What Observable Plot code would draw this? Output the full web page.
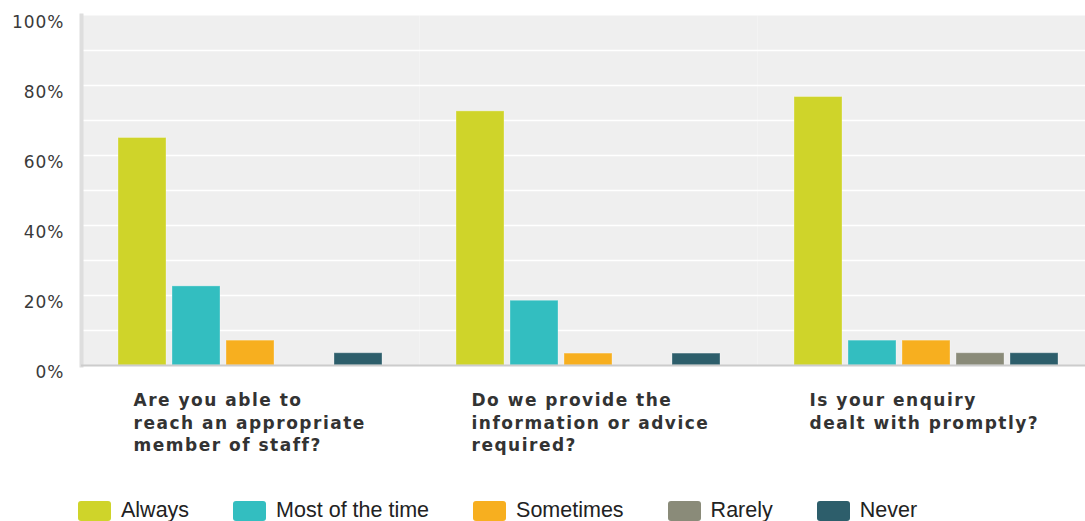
<!DOCTYPE html>
<html><head><meta charset="utf-8">
<script src="https://cdn.jsdelivr.net/npm/d3@7"></script>
<script src="https://cdn.jsdelivr.net/npm/@observablehq/plot@0.6"></script>
<style>
html,body{margin:0;padding:0;overflow:hidden;background:#fff;}
#chart svg{max-width:none !important;display:block}
#chart svg g[aria-label="y-axis tick label"] text{letter-spacing:1px}
#chart svg g[aria-label="text"] text{letter-spacing:1.5px}
.legend{display:flex;align-items:flex-start;margin-left:78px;margin-top:1px;font-family:"Liberation Sans",Arial,sans-serif;font-size:21.5px;line-height:18px;color:#222;height:20px}
.legend .item{display:flex;align-items:flex-start;margin-right:44px}
.legend .sw{width:33px;height:20px;border-radius:3px;margin-right:10px}
</style></head><body><div id="chart"></div><script>
const questions = ["Q1", "Q2", "Q3"];
const questionLabels = [
  "Are you able to\nreach an appropriate\nmember of staff?",
  "Do we provide the\ninformation or advice\nrequired?",
  "Is your enquiry\ndealt with promptly?"
];
const responses = ["Always", "Most of the time", "Sometimes", "Rarely", "Never"];
const always = [65, 72.6, 76.7];
const mostOfTheTime = [22.6, 18.5, 7.1];
const sometimes = [7.1, 3.4, 7.1];
const rarely = [0, 0, 3.5];
const never = [3.5, 3.4, 3.5];
const yTicks = [0, 20, 40, 60, 80, 100];
const gridTicks = [10, 20, 30, 40, 50, 60, 70, 80, 90];

const colors = ["#cfd42a", "#33bec0", "#f7af1f", "#8a8b79", "#2d5e6b"];
const series = [always, mostOfTheTime, sometimes, rarely, never];
const data = [];
questions.forEach((q, i) => responses.forEach((r, j) => data.push({question: q, response: r, value: series[j][i]})));

const chart = Plot.plot({
  width: 1095,
  height: 500,
  marginLeft: 81,
  marginRight: 0,
  marginTop: 15,
  marginBottom: 135,
  style: {fontFamily: "DejaVu Sans, sans-serif", color: "#3a3a3a", background: "#fff"},
  fx: {domain: questions, padding: 0, axis: null},
  x: {domain: responses, paddingInner: 0.111, paddingOuter: 0.685, axis: null},
  y: {domain: [0, 100], label: null},
  color: {domain: responses, range: colors},
  marks: [
    Plot.frame({fill: "#efefef"}),
    Plot.gridY(gridTicks, {stroke: "#fff", strokeOpacity: 1, strokeWidth: 1.5}),
    Plot.frame({anchor: "left", stroke: "#dedede", strokeWidth: 4, facetAnchor: "left"}),
    Plot.barY(data, {fx: "question", x: "response", y: "value", fill: "response", stroke: "#fff", strokeOpacity: 0.3, strokeWidth: 1}),
    Plot.ruleY([0], {stroke: "#cccccc", strokeWidth: 2}),
    Plot.axisY({ticks: yTicks, tickFormat: d => d + "%", tickSize: 0, tickPadding: 17, fontSize: 17, dy: 7, fill: "#3a3a3a", label: null}),
    Plot.text(questions, {fx: d => d, text: (d, i) => questionLabels[i], frameAnchor: "bottom-left", dx: 52, dy: 25, lineAnchor: "top", textAnchor: "start", lineHeight: 1.32, fontSize: 17, fontWeight: "bold", fill: "#333"})
  ]
});
document.getElementById("chart").appendChild(chart);

const legend = document.createElement("div");
legend.className = "legend";
responses.forEach((r, j) => {
  const item = document.createElement("div");
  item.className = "item";
  const sw = document.createElement("span");
  sw.className = "sw";
  sw.style.background = colors[j];
  const t = document.createElement("span");
  t.textContent = r;
  item.appendChild(sw); item.appendChild(t);
  legend.appendChild(item);
});
document.getElementById("chart").appendChild(legend);
</script></body></html>
